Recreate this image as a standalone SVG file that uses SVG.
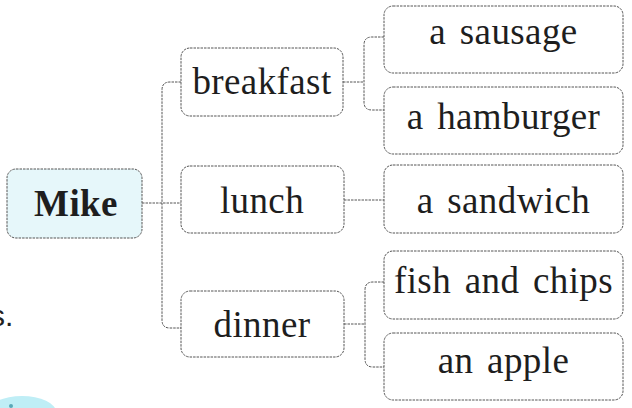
<svg xmlns="http://www.w3.org/2000/svg" width="632" height="408" viewBox="0 0 632 408">
<style>
.box{fill:#ffffff;stroke:#555555;stroke-width:1;stroke-dasharray:2.5 1}
.root{fill:#e6f7fa}
.con{fill:none;stroke:#555555;stroke-width:1;stroke-dasharray:2.5 1}
.t{font-family:"Liberation Serif","Times New Roman",serif;font-size:37px;fill:#1e1e1e;text-anchor:middle;letter-spacing:0.4px;word-spacing:4px}
.b{font-weight:bold}
</style>
<rect width="632" height="408" fill="#ffffff"/>
<ellipse cx="22" cy="412" rx="34" ry="16" fill="#bfeef6"/>
<circle cx="11" cy="406" r="2" fill="#5aa8b8"/>
<text x="-10" y="326" font-family="Liberation Sans, Arial, sans-serif" font-size="30" fill="#222">s.</text>
<g id="connectors">
<path class="con" d="M142,203 H181"/>
<path class="con" d="M181,82 H170 Q162,82 162,90 V320 Q162,328 170,328 H181"/>
<path class="con" d="M343,82 H364"/>
<path class="con" d="M384,37 H372 Q364,37 364,45 V102 Q364,110 372,110 H384"/>
<path class="con" d="M344,200 H384"/>
<path class="con" d="M344,324 H365"/>
<path class="con" d="M384,282 H373 Q365,282 365,290 V359 Q365,367 373,367 H384"/>
</g>
<g id="mike"><rect class="box root" x="7" y="169" width="135" height="69" rx="9"/><text class="t b" x="76" y="216">Mike</text></g>
<g id="breakfast"><rect class="box" x="181" y="48" width="162" height="68" rx="9"/><text class="t" x="262" y="94">breakfast</text></g>
<g id="lunch"><rect class="box" x="181" y="166" width="163" height="67" rx="9"/><text class="t" x="262" y="213">lunch</text></g>
<g id="dinner"><rect class="box" x="181" y="291" width="163" height="66" rx="9"/><text class="t" x="262" y="337">dinner</text></g>
<g id="sausage"><rect class="box" x="384" y="6" width="239" height="67" rx="9"/><text class="t" x="503.5" y="44">a sausage</text></g>
<g id="hamburger"><rect class="box" x="384" y="87" width="239" height="67" rx="9"/><text class="t" x="503.5" y="129">a hamburger</text></g>
<g id="sandwich"><rect class="box" x="384" y="165" width="239" height="68" rx="9"/><text class="t" x="503.5" y="213">a sandwich</text></g>
<g id="fish"><rect class="box" x="384" y="251" width="239" height="68" rx="9"/><text class="t" x="503.5" y="293">fish and chips</text></g>
<g id="apple"><rect class="box" x="384" y="333" width="239" height="67" rx="9"/><text class="t" x="503.5" y="373">an apple</text></g>
</svg>
